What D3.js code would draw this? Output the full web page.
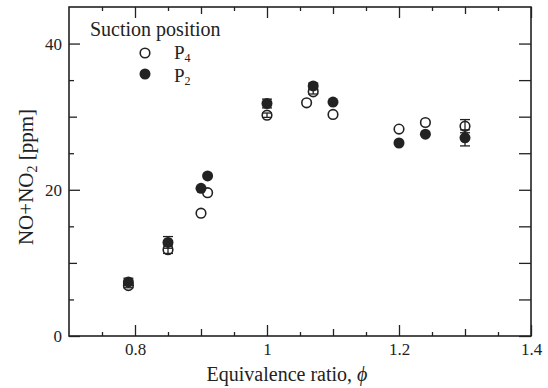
<!DOCTYPE html>
<html>
<head>
<meta charset="utf-8">
<script src="https://cdn.jsdelivr.net/npm/d3@7"></script>
<style>
  body { margin: 0; background: #fff; }
  svg, svg text { font-family: "Liberation Serif", "Times New Roman", "DejaVu Serif", serif !important; }
  text { fill: #222; }
</style>
</head>
<body>
<svg id="chart" width="548" height="388"></svg>
<script>
// P4 (open circles)
const phiP4 = [0.79, 0.85, 0.90, 0.91, 1.00, 1.06, 1.07, 1.10, 1.20, 1.24, 1.30]
const noxP4 = [6.9, 11.8, 16.8, 19.6, 30.2, 31.9, 33.4, 30.3, 28.3, 29.2, 28.7]
const errP4 = [0.3, 0.5, 0, 0, 0.3, 0, 0.3, 0, 0, 0, 0.9]
// P2 (filled circles)
const phiP2 = [0.79, 0.85, 0.90, 0.91, 1.00, 1.07, 1.10, 1.20, 1.24, 1.30]
const noxP2 = [7.4, 12.8, 20.2, 21.9, 31.8, 34.2, 32.0, 26.4, 27.6, 27.1]
const errP2 = [0.5, 0.8, 0, 0, 0.6, 0.4, 0, 0, 0, 1.1]

const xMajor = [0.8, 1.0, 1.2, 1.4]
const xMid = [0.9, 1.1, 1.3]
const xMinor = [0.75, 0.85, 0.95, 1.05, 1.15, 1.25, 1.35]
const yMajor = [0, 20, 40]
const yMid = [10, 30]
const yMinor = [5, 15, 25, 35]

const margin = {top: 7, right: 17, bottom: 52, left: 69}
const width = 548, height = 388
const iw = width - margin.left - margin.right
const ih = height - margin.top - margin.bottom

const x = d3.scaleLinear().domain([0.7, 1.4]).range([0, iw])
const y = d3.scaleLinear().domain([0, 45]).range([ih, 0])

const svg = d3.select("#chart")
const g = svg.append("g").attr("transform", `translate(${margin.left},${margin.top})`)

// axes with inward ticks
function tickAxis(axisFn, scale, values, size, labels) {
  const a = axisFn(scale).tickValues(values).tickSizeInner(-size).tickSizeOuter(0)
  if (labels) a.tickFormat(d3.format("")).tickPadding(7)
  else a.tickFormat("")
  return a
}

function addAxis(axis, transform) {
  const ag = g.append("g").attr("transform", transform).call(axis)
  ag.attr("font-family", null)
  ag.select(".domain").remove()
  ag.selectAll("line").attr("stroke", "#222").attr("stroke-width", 1.3)
  ag.selectAll("text").attr("font-size", 17).attr("fill", "#222")
  return ag
}

// bottom
addAxis(tickAxis(d3.axisBottom, x, xMajor, 11, true), `translate(0,${ih})`)
addAxis(tickAxis(d3.axisBottom, x, xMid, 7), `translate(0,${ih})`)
addAxis(tickAxis(d3.axisBottom, x, xMinor, 4), `translate(0,${ih})`)
// top
addAxis(tickAxis(d3.axisTop, x, xMajor, 11), `translate(0,0)`)
addAxis(tickAxis(d3.axisTop, x, xMid, 7), `translate(0,0)`)
addAxis(tickAxis(d3.axisTop, x, xMinor, 4), `translate(0,0)`)
// left
addAxis(tickAxis(d3.axisLeft, y, yMajor, 11, true), `translate(0,0)`)
addAxis(tickAxis(d3.axisLeft, y, yMid, 8), `translate(0,0)`)
addAxis(tickAxis(d3.axisLeft, y, yMinor, 5), `translate(0,0)`)
// right
addAxis(tickAxis(d3.axisRight, y, yMajor.concat(yMid, yMinor), 12), `translate(${iw},0)`)

// frame
g.append("rect")
  .attr("width", iw).attr("height", ih)
  .attr("fill", "none").attr("stroke", "#222").attr("stroke-width", 1.6)

// error bars
function errorBars(phi, val, err) {
  const data = phi.map((p, i) => ({p, v: val[i], e: err[i]})).filter(d => d.e > 0)
  const eb = g.append("g").attr("stroke", "#222").attr("stroke-width", 1.3)
  data.forEach(d => {
    eb.append("line").attr("x1", x(d.p)).attr("x2", x(d.p)).attr("y1", y(d.v - d.e)).attr("y2", y(d.v + d.e))
    ;[d.v - d.e, d.v + d.e].forEach(v => {
      eb.append("line").attr("x1", x(d.p) - 5).attr("x2", x(d.p) + 5).attr("y1", y(v)).attr("y2", y(v))
    })
  })
}
errorBars(phiP2, noxP2, errP2)
errorBars(phiP4, noxP4, errP4)

// P4 open
g.append("g").selectAll("circle")
  .data(phiP4.map((p, i) => [p, noxP4[i]]))
  .join("circle")
  .attr("cx", d => x(d[0])).attr("cy", d => y(d[1])).attr("r", 4.8)
  .attr("fill", "none").attr("stroke", "#222").attr("stroke-width", 1.6)

// P2 filled
g.append("g").selectAll("circle")
  .data(phiP2.map((p, i) => [p, noxP2[i]]))
  .join("circle")
  .attr("cx", d => x(d[0])).attr("cy", d => y(d[1])).attr("r", 5.5)
  .attr("fill", "#222")

// legend
const lg = svg.append("g")
lg.append("text").attr("x", 90).attr("y", 36).attr("font-size", 20).text("Suction position")
lg.append("circle").attr("cx", 145).attr("cy", 53).attr("r", 4.8)
  .attr("fill", "none").attr("stroke", "#222").attr("stroke-width", 1.6)
lg.append("circle").attr("cx", 145).attr("cy", 74).attr("r", 5.5).attr("fill", "#222")
const t4 = lg.append("text").attr("x", 174).attr("y", 59).attr("font-size", 19)
t4.append("tspan").text("P")
t4.append("tspan").attr("font-size", 12).attr("dy", 3).text("4")
const t2 = lg.append("text").attr("x", 174).attr("y", 82).attr("font-size", 19)
t2.append("tspan").text("P")
t2.append("tspan").attr("font-size", 12).attr("dy", 3).text("2")

// x label
const xl = svg.append("text").attr("x", 287).attr("y", 381).attr("text-anchor", "middle").attr("font-size", 20)
xl.append("tspan").text("Equivalence ratio,  ")
xl.append("tspan").attr("font-style", "italic").text("\u03d5")

// y label
const yl = svg.append("text").attr("transform", "translate(33,177) rotate(-90)")
  .attr("text-anchor", "middle").attr("font-size", 21)
yl.append("tspan").text("NO+NO")
yl.append("tspan").attr("font-size", 14).attr("dy", 4).text("2")
yl.append("tspan").attr("dy", -4).text(" [ppm]")
</script>
</body>
</html>
